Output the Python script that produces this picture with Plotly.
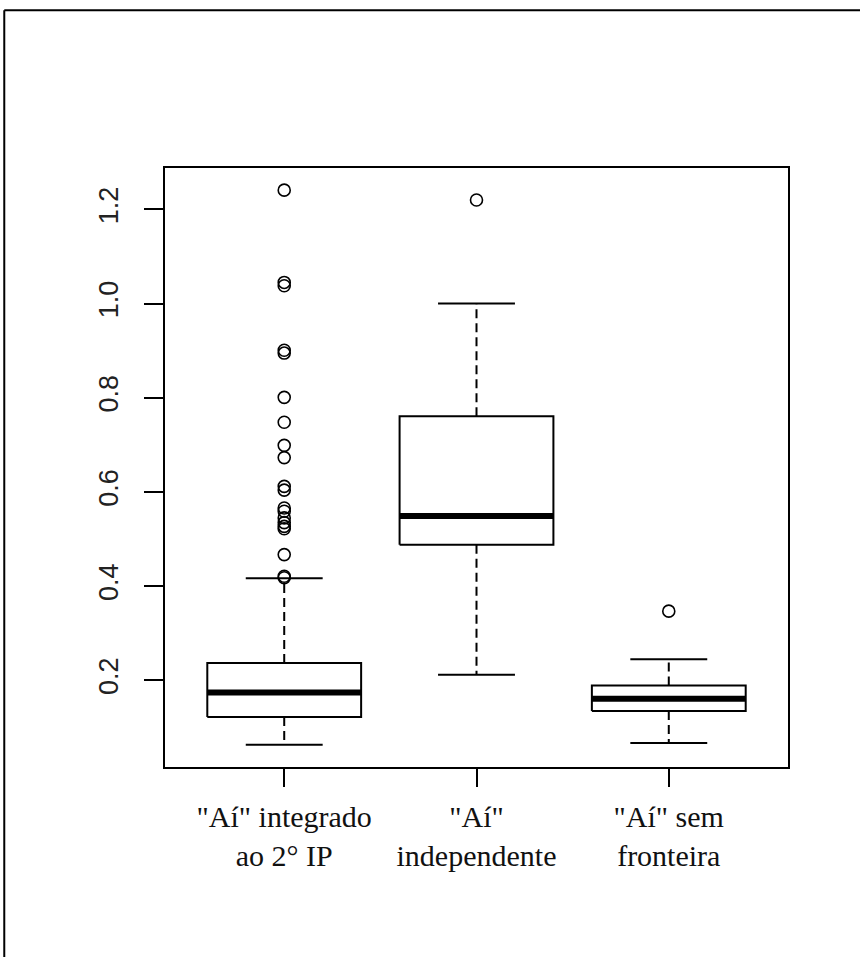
import plotly.graph_objects as go

# ---- data ----
categories = ['"Aí" integrado<br>ao 2° IP', '"Aí"<br>independente', '"Aí" sem<br>fronteira']
positions = [1, 2, 3]
lower_whisker = [0.063, 0.212, 0.067]
q1 = [0.122, 0.488, 0.135]
median = [0.174, 0.549, 0.161]
q3 = [0.237, 0.761, 0.189]
upper_whisker = [0.417, 1.000, 0.245]
outliers = [
    [1.241, 1.045, 1.038, 0.901, 0.895, 0.801, 0.748, 0.699, 0.673, 0.612,
     0.604, 0.566, 0.559, 0.545, 0.535, 0.527, 0.522, 0.467, 0.421, 0.418],
    [1.220],
    [0.347],
]
y_ticks = [0.2, 0.4, 0.6, 0.8, 1.0, 1.2]
y_tick_labels = ["0.2", "0.4", "0.6", "0.8", "1.0", "1.2"]

# ---- styles ----
HALF_BOX = 0.4
HALF_CAP = 0.2
BLACK = "black"
LW = 2

fig = go.Figure()

for i, x in enumerate(positions):
    # box rectangle
    fig.add_trace(go.Scatter(
        x=[x - HALF_BOX, x + HALF_BOX, x + HALF_BOX, x - HALF_BOX, x - HALF_BOX],
        y=[q1[i], q1[i], q3[i], q3[i], q1[i]],
        mode="lines", line=dict(color=BLACK, width=LW), hoverinfo="skip"))
    # median
    fig.add_trace(go.Scatter(
        x=[x - HALF_BOX, x + HALF_BOX], y=[median[i], median[i]],
        mode="lines", line=dict(color=BLACK, width=6), hoverinfo="skip"))
    # whiskers (dashed)
    fig.add_trace(go.Scatter(
        x=[x, x], y=[q3[i], upper_whisker[i]],
        mode="lines", line=dict(color=BLACK, width=LW, dash="9px,5px"), hoverinfo="skip"))
    fig.add_trace(go.Scatter(
        x=[x, x], y=[q1[i], lower_whisker[i]],
        mode="lines", line=dict(color=BLACK, width=LW, dash="9px,5px"), hoverinfo="skip"))
    # caps
    for v in (upper_whisker[i], lower_whisker[i]):
        fig.add_trace(go.Scatter(
            x=[x - HALF_CAP, x + HALF_CAP], y=[v, v],
            mode="lines", line=dict(color=BLACK, width=LW), hoverinfo="skip"))
    # outliers
    fig.add_trace(go.Scatter(
        x=[x] * len(outliers[i]), y=outliers[i], mode="markers",
        marker=dict(symbol="circle-open", size=12, color=BLACK,
                    line=dict(width=1.6, color=BLACK)),
        hoverinfo="skip"))

fig.update_layout(
    width=860, height=957,
    margin=dict(l=165, r=72, t=168, b=190, pad=0),
    paper_bgcolor="white", plot_bgcolor="white",
    showlegend=False,
    xaxis=dict(
        range=[0.38, 3.62], tickmode="array", tickvals=positions, ticktext=categories,
        showgrid=False, zeroline=False, showline=True, mirror=True,
        linecolor=BLACK, linewidth=2, ticks="outside", ticklen=18, tickwidth=2,
        tickcolor=BLACK, ticklabelstandoff=4,
        tickfont=dict(family="Liberation Serif, Times New Roman, serif", size=30, color="#111"),
    ),
    yaxis=dict(
        range=[0.016, 1.288], tickmode="array", tickvals=y_ticks, ticktext=y_tick_labels,
        showgrid=False, zeroline=False, showline=True, mirror=True,
        linecolor=BLACK, linewidth=2, ticks="outside", ticklen=19, tickwidth=2,
        tickcolor=BLACK, tickangle=-90, ticklabelstandoff=15,
        tickfont=dict(family="Liberation Sans, Arial, sans-serif", size=27, color="#222"),
    ),
    shapes=[
        dict(type="line", xref="paper", yref="paper", x0=-0.258, x1=-0.258, y0=-0.4, y1=1.2635,
             line=dict(color=BLACK, width=2)),
        dict(type="line", xref="paper", yref="paper", x0=-0.258, x1=1.3, y0=1.2635, y1=1.2635,
             line=dict(color=BLACK, width=2)),
    ],
)

fig.write_html("out.html")
